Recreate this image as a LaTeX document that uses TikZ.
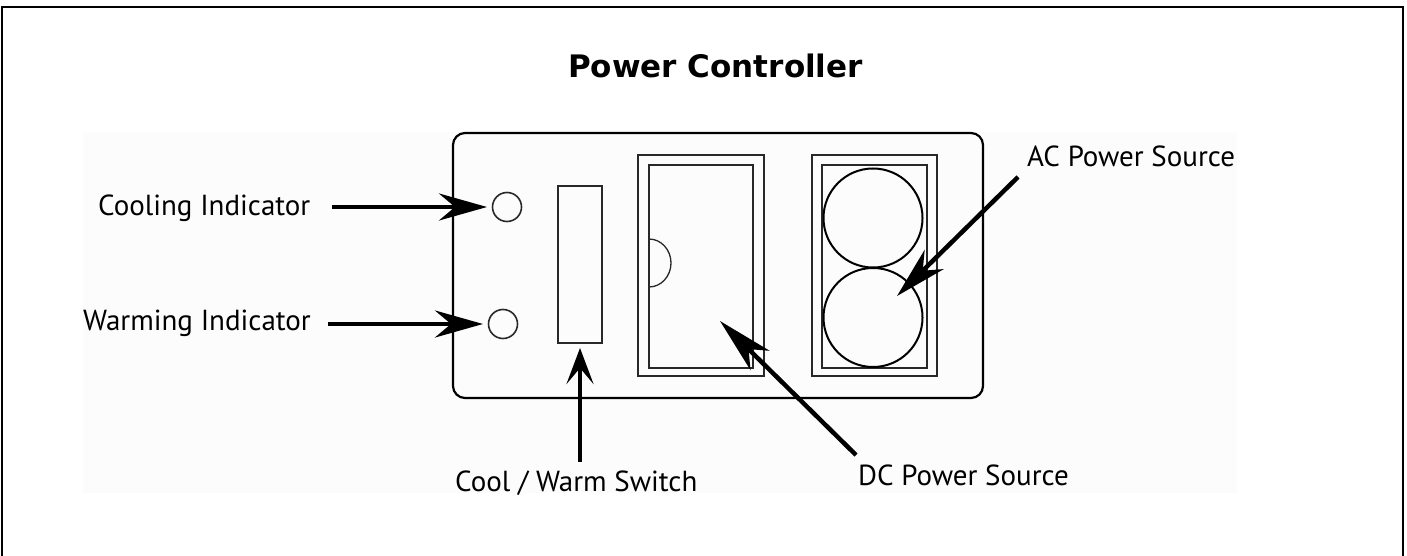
\documentclass[tikz,border=0pt]{standalone}
\usepackage{fontspec}
\setmainfont{PT Sans}
\newfontfamily\titlefont{DejaVu Sans}
\usetikzlibrary{arrows.meta}
\definecolor{inset}{RGB}{252,252,252}
\definecolor{partline}{RGB}{40,40,40}
\begin{document}
\begin{tikzpicture}[x=1pt,y=-1pt,
  lbl/.style={font=\fontsize{29}{32}\selectfont, inner sep=0pt, anchor=base west},
  partbox/.style={draw=partline, line width=2pt, inner sep=0pt, rectangle},
  led/.style={draw=partline, line width=1.6pt, circle, inner sep=0pt, minimum size=29pt},
  socket/.style={draw=black, line width=2pt, circle, inner sep=0pt, minimum size=99pt},
  ptr/.style={line width=4.5pt, -{Stealth[length=#1, width=27pt, inset=16pt]}},
  ptr/.default=48pt]
\useasboundingbox (0,0) rectangle (1407,556);
\fill[white] (0,0) rectangle (1407,556);
\fill[inset] (83,132) rectangle (1237,493);
% outer frame
\draw[line width=2pt] (2,556) -- (2,7) -- (1403,7) -- (1403,556);
% title
\node[font=\titlefont\bfseries\fontsize{31}{35}\selectfont, anchor=base, inner sep=0pt] (title) at (715.5,78) {Power Controller};
% panel
\node[draw=black, line width=2.2pt, rounded corners=12pt, minimum width=530pt, minimum height=265pt, inner sep=0pt] (panel) at (718,265.5) {};
% indicators
\node[led] (coolLED) at (507,207) {};
\node[led] (warmLED) at (503,324) {};
% switch
\node[partbox, minimum width=44pt, minimum height=157pt] (switch) at (580,264.5) {};
% DC socket
\node[partbox, minimum width=126pt, minimum height=221pt] (dcOuter) at (701,265.5) {};
\node[partbox, minimum width=104pt, minimum height=203pt] (dcInner) at (701,266.5) {};
\draw[partline, line width=1.3pt] (649,239) arc[start angle=-90, end angle=90, x radius=22, y radius=24];
% AC socket
\node[partbox, minimum width=125pt, minimum height=221pt] (acOuter) at (874.5,265.5) {};
\node[partbox, minimum width=105pt, minimum height=203pt] (acInner) at (874.5,266.5) {};
\node[socket] (acTop) at (873,218) {};
\node[socket] (acBot) at (873,317.5) {};
% labels
\node[lbl] (coolL) at (98,215) {Cooling Indicator};
\node[lbl] (warmL) at (83,330) {Warming Indicator};
\node[lbl] (switchL) at (455,491) {Cool / Warm Switch};
\node[lbl] (dcL) at (858,485) {DC Power Source};
\node[lbl] (acL) at (1027,167) {AC Power Source};
% arrow ends
\coordinate (coolTail) at (332,207);
\coordinate (coolTip) at (487,207);
\coordinate (warmTail) at (328,324);
\coordinate (warmTip) at (483,324);
\coordinate (swTail) at (580,462);
\coordinate (swTip) at (580,348);
\coordinate (dcTail) at (856,455);
\coordinate (dcTip) at (720,321);
\coordinate (acTail) at (1018,177);
\coordinate (acTip) at (897,296);
\draw[ptr] (coolTail) -- (coolTip);
\draw[ptr] (warmTail) -- (warmTip);
\draw[ptr=36pt] (swTail) -- (swTip);
\draw[ptr=56pt] (dcTail) -- (dcTip);
\draw[ptr=52pt] (acTail) -- (acTip);
\end{tikzpicture}
\end{document}
